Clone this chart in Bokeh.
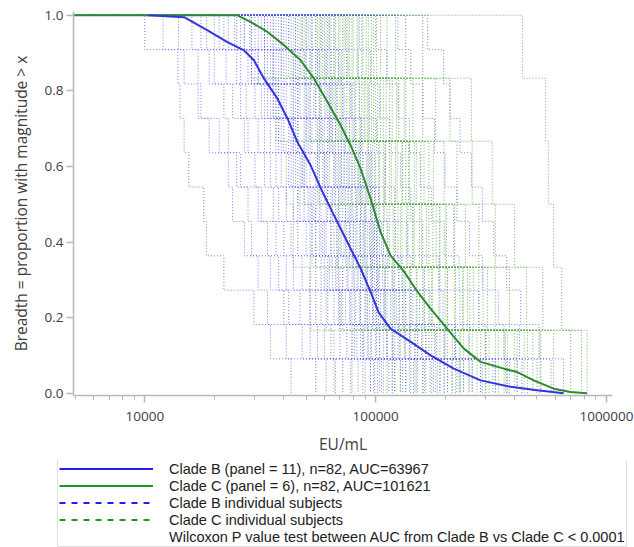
import numpy as np
from bokeh.plotting import figure
from bokeh.layouts import column
from bokeh.models import Range1d, FixedTicker, NumeralTickFormatter, Legend, LegendItem
from bokeh.embed import file_html
from bokeh.resources import INLINE

# ---------------- data ----------------
x_ticks = [10000, 100000, 1000000]
y_ticks = [0.0, 0.2, 0.4, 0.6, 0.8, 1.0]
x_start, x_end = 4910, 1062000

# pooled breadth curves (EU/mL, breadth)
clade_b_x = [10300, 14800, 18700, 22800, 26900, 29700, 32800, 37500, 41500, 45800,
             52300, 58800, 67100, 75400, 86100, 95100, 103000, 116000, 142000,
             173000, 218000, 285000, 384000, 501000, 652000]
clade_b_y = [1.0, 0.995, 0.960, 0.929, 0.907, 0.881, 0.833, 0.780, 0.727, 0.665,
             0.603, 0.533, 0.462, 0.400, 0.330, 0.268, 0.214, 0.171, 0.136,
             0.100, 0.065, 0.034, 0.017, 0.008, 0.0]
clade_c_x = [4910, 25200, 28800, 34000, 40100, 47300, 54000, 61800, 70500, 77900,
             86100, 95100, 105000, 116000, 133000, 152000, 173000, 204000, 241000,
             285000, 359000, 410000, 484000, 591000, 698000, 824000]
clade_c_y = [1.0, 1.0, 0.982, 0.956, 0.921, 0.881, 0.833, 0.771, 0.709, 0.656,
             0.594, 0.515, 0.427, 0.365, 0.321, 0.268, 0.224, 0.171, 0.118,
             0.083, 0.065, 0.056, 0.034, 0.012, 0.003, 0.0]

# individual subjects, magnitudes in thousands of EU/mL (11 antigens for B, 6 for C)
clade_b_subjects_k = [
    [10, 13.9, 14.2, 14.8, 15.5, 18, 18.5, 22, 29.7, 35, 43],
    [12, 14.8, 17, 19, 23, 24, 27, 31, 34, 41, 55],
    [14, 17, 17.5, 21, 25, 28, 29, 35, 40, 48, 61],
    [16, 19, 22, 23, 26, 31, 34, 38, 42, 52, 67],
    [17.5, 20, 24, 28, 30, 32, 37, 41, 47, 56, 72],
    [18.5, 22.5, 26, 27, 33, 36, 40, 44, 52, 60, 78],
    [20, 25, 27.5, 31, 35, 38, 43, 48, 55, 64, 84],
    [21, 29, 33, 37, 44, 51, 57, 63, 71, 86, 118],
    [22, 26, 30, 33, 37, 41, 46, 52, 58, 70, 90],
    [23, 28, 32, 35, 39, 44, 50, 55, 62, 75, 95],
    [24.5, 29, 34, 38, 42, 47, 52, 58, 66, 79, 99],
    [25, 30, 36, 43, 48, 54, 60, 67, 79, 93, 131],
    [26, 31, 35, 40, 45, 49, 55, 62, 70, 83, 102],
    [27, 33, 37, 42, 47, 52, 58, 65, 74, 88, 108],
    [27, 31, 36, 39, 43, 46, 53, 60, 69, 81, 98],
    [28.5, 34, 39, 44, 49, 55, 61, 69, 78, 92, 114],
    [29, 35, 38, 45, 50, 57, 66, 75, 85, 101, 146],
    [30, 36, 41, 46, 52, 58, 64, 72, 82, 96, 121],
    [31, 37, 43, 49, 55, 61, 68, 76, 86, 100, 128],
    [32, 38, 46, 50, 56, 62, 70, 79, 92, 112, 163],
    [33, 39, 45, 51, 57, 64, 71, 80, 90, 104, 135],
    [33, 36, 40, 44, 48, 53, 59, 68, 77, 89, 106],
    [34, 41, 47, 53, 60, 67, 75, 84, 94, 108, 142],
    [35, 40, 44, 52, 59, 65, 73, 83, 97, 119, 178],
    [36, 43, 49, 56, 63, 70, 78, 88, 98, 112, 150],
    [37, 44, 51, 57, 61, 69, 77, 86, 100, 127, 190],
    [38, 45, 52, 59, 66, 74, 82, 92, 101, 118, 160],
    [39, 46, 50, 58, 67, 72, 80, 91, 103, 134, 205],
    [40, 47, 54, 62, 70, 78, 86, 95, 105, 125, 172],
    [41, 49, 55, 63, 68, 76, 85, 96, 108, 140, 225],
    [42, 50, 57, 65, 73, 82, 90, 99, 110, 133, 185],
    [43, 52, 58, 64, 71, 79, 88, 97, 112, 148, 240],
    [45, 53, 61, 69, 77, 86, 94, 102, 116, 142, 198],
    [46, 55, 62, 67, 75, 83, 92, 101, 120, 158, 262],
    [48, 56, 64, 73, 81, 90, 98, 107, 123, 152, 214],
    [50, 57, 63, 71, 79, 87, 96, 104, 127, 170, 290],
    [51, 60, 68, 77, 86, 95, 101, 113, 131, 165, 232],
    [53, 61, 66, 74, 84, 91, 99, 110, 135, 184, 330],
    [55, 64, 73, 82, 91, 99, 106, 120, 142, 180, 255],
    [58, 66, 72, 80, 88, 96, 102, 118, 145, 200, 380],
    [60, 69, 78, 87, 96, 103, 113, 130, 155, 198, 285],
    [63, 71, 79, 86, 94, 100, 108, 126, 160, 220, 410],
    [66, 75, 85, 93, 100, 109, 122, 142, 172, 222, 322],
    [74, 84, 93, 101, 110, 121, 137, 160, 196, 255, 370],
    [85, 95, 104, 115, 128, 142, 160, 188, 232, 300, 430],
    [100, 112, 125, 140, 156, 175, 198, 230, 280, 360, 500],
    [125, 142, 160, 180, 200, 225, 255, 290, 340, 420, 575],
    [168, 197, 210, 232, 260, 290, 325, 370, 425, 510, 652],
]
clade_c_subjects_k = [
    [29, 37, 41, 44, 52, 66],
    [33, 38, 46, 55, 61, 79],
    [36, 44, 49, 53, 70, 88],
    [39, 46, 57, 64, 72, 95],
    [42, 50, 56, 69, 81, 104],
    [44, 52, 60, 74, 92, 118],
    [45, 55, 62, 68, 86, 112],
    [47, 58, 66, 77, 90, 121],
    [48, 63, 85, 99, 135, 230],
    [49, 57, 69, 83, 101, 135],
    [50, 60, 71, 80, 97, 128],
    [52, 64, 76, 89, 109, 148],
    [53, 65, 73, 86, 103, 140],
    [55, 67, 82, 95, 121, 165],
    [56, 68, 79, 90, 110, 152],
    [57, 72, 95, 125, 170, 300],
    [58, 70, 84, 97, 118, 160],
    [59, 71, 86, 104, 131, 182],
    [61, 75, 88, 101, 126, 175],
    [62, 90, 110, 145, 200, 360],
    [63, 77, 93, 112, 140, 198],
    [64, 79, 92, 108, 133, 190],
    [66, 81, 99, 119, 151, 215],
    [67, 82, 97, 115, 142, 205],
    [69, 85, 104, 128, 163, 233],
    [70, 87, 103, 121, 150, 222],
    [72, 89, 110, 136, 176, 252],
    [73, 92, 108, 130, 162, 240],
    [75, 100, 135, 190, 250, 480],
    [76, 94, 117, 145, 190, 275],
    [77, 96, 115, 138, 175, 262],
    [79, 98, 124, 155, 204, 298],
    [80, 102, 122, 147, 188, 285],
    [83, 105, 131, 166, 220, 330],
    [84, 108, 130, 158, 205, 310],
    [87, 111, 139, 177, 238, 365],
    [88, 115, 140, 170, 222, 340],
    [91, 118, 147, 189, 256, 400],
    [93, 123, 150, 183, 240, 372],
    [96, 126, 157, 203, 280, 440],
    [98, 133, 162, 200, 265, 410],
    [101, 135, 170, 218, 305, 520],
    [105, 145, 178, 220, 292, 455],
    [112, 160, 198, 245, 330, 515],
    [122, 182, 225, 280, 380, 590],
    [135, 210, 262, 330, 450, 700],
    [160, 260, 320, 400, 530, 824],
    [433, 545, 560, 590, 640, 780],
]

legend_labels = [
    "Clade B (panel = 11), n=82, AUC=63967",
    "Clade C (panel = 6), n=82, AUC=101621",
    "Clade B individual subjects",
    "Clade C individual subjects",
    "Wilcoxon P value test between AUC from Clade B vs Clade C < 0.0001",
]

# ---------------- styling ----------------
FONT = "Open Sans"
LEGEND_FONT = "Liberation Sans"
BLUE = "#3434dc"
GREEN = "#2e8a2e"
BLUE_DOT = "#5c5cf0"
GREEN_DOT = "#4aa23a"


def step_curve(vals_k, x0):
    v = sorted(val * 1000 for val in vals_k)
    n = len(v)
    xs, ys = [x0], [1.0]
    for i, val in enumerate(v):
        xs += [val, val]
        ys += [(n - i) / n, (n - i - 1) / n]
    return xs, ys


p = figure(width=634, height=460, x_axis_type="log",
           x_range=Range1d(x_start, x_end), y_range=Range1d(-0.006, 1.01),
           output_backend="svg", toolbar_location=None,
           min_border_left=73, min_border_right=22, min_border_top=11, min_border_bottom=65)
p.frame_align = False
p.outline_line_color = None
p.xgrid.visible = False
p.ygrid.visible = False

b_curves = [step_curve(s, x_start) for s in clade_b_subjects_k]
c_curves = [step_curve(s, x_start) for s in clade_c_subjects_k]
p.multi_line([c[0] for c in c_curves], [c[1] for c in c_curves],
             line_color=GREEN_DOT, line_alpha=0.8, line_width=1, line_dash="1 2")
p.multi_line([c[0] for c in b_curves], [c[1] for c in b_curves],
             line_color=BLUE_DOT, line_alpha=0.8, line_width=1, line_dash="1 2")

p.line(clade_c_x, clade_c_y, line_color=GREEN, line_width=2)
p.line(clade_b_x, clade_b_y, line_color=BLUE, line_width=2)

# axes
minor = [m * 10 ** k for k in (3, 4, 5) for m in range(2, 10)]
p.xaxis.ticker = FixedTicker(ticks=x_ticks, minor_ticks=minor)
p.xaxis.formatter = NumeralTickFormatter(format="0")
p.yaxis.ticker = FixedTicker(ticks=y_ticks)
p.yaxis.formatter = NumeralTickFormatter(format="0.0")

p.xaxis.axis_label = "EU/mL"
p.yaxis.axis_label = "Breadth = proportion with magnitude > x"
for ax in (p.xaxis[0], p.yaxis[0]):
    ax.axis_line_color = "#b8b8b8"
    ax.axis_line_width = 1.5
    ax.major_tick_line_color = "#b8b8b8"
    ax.major_tick_line_width = 1.5
    ax.major_tick_out = 7
    ax.major_tick_in = 0
    ax.minor_tick_out = 4
    ax.minor_tick_in = 0
    ax.major_label_text_font = FONT
    ax.major_label_text_font_size = "13.5px"
    ax.major_label_text_color = "#404040"
    ax.axis_label_text_font = FONT
    ax.axis_label_text_font_size = "15.5px"
    ax.axis_label_text_font_style = "normal"
    ax.axis_label_text_color = "#404040"
p.xaxis.minor_tick_line_color = "#b8b8b8"
p.yaxis.minor_tick_line_color = None
p.xaxis.major_label_standoff = 9
p.xaxis.axis_label_standoff = 9
p.yaxis.major_label_standoff = 3
p.yaxis.axis_label_standoff = 10

# ---------------- legend strip ----------------
lg = figure(width=634, height=87, x_range=Range1d(0, 1), y_range=Range1d(0, 1),
            output_backend="svg", toolbar_location=None,
            x_axis_location=None, y_axis_location=None,
            min_border_left=0, min_border_right=0, min_border_top=0, min_border_bottom=0)
lg.frame_align = False
lg.outline_line_color = None
lg.xgrid.visible = False
lg.ygrid.visible = False
nan = [float("nan")]
r1 = lg.line(nan, nan, line_color="#1f1ff5", line_width=2)
r2 = lg.line(nan, nan, line_color="#1f961f", line_width=2)
r3 = lg.line(nan, nan, line_color="#1f1ff5", line_width=2, line_dash="6 6")
r4 = lg.line(nan, nan, line_color="#1f961f", line_width=2, line_dash="6 6")
r5 = lg.line(nan, nan, line_alpha=0)
legend = Legend(items=[LegendItem(label=lab, renderers=[r])
                       for lab, r in zip(legend_labels, [r1, r2, r3, r4, r5])],
                location=(57, 0))
legend.label_text_font = LEGEND_FONT
legend.label_text_font_size = "14.5px"
legend.label_text_color = "#222222"
legend.glyph_width = 94
legend.glyph_height = 17
legend.label_height = 17
legend.label_standoff = 16
legend.spacing = 0
legend.padding = 1
legend.margin = 0
legend.border_line_color = "#bdbdbd"
legend.border_line_width = 1
legend.background_fill_color = "white"
legend.background_fill_alpha = 1
lg.add_layout(legend)

layout = column(p, lg, spacing=0)
open("out.html", "w").write(file_html(layout, INLINE))
